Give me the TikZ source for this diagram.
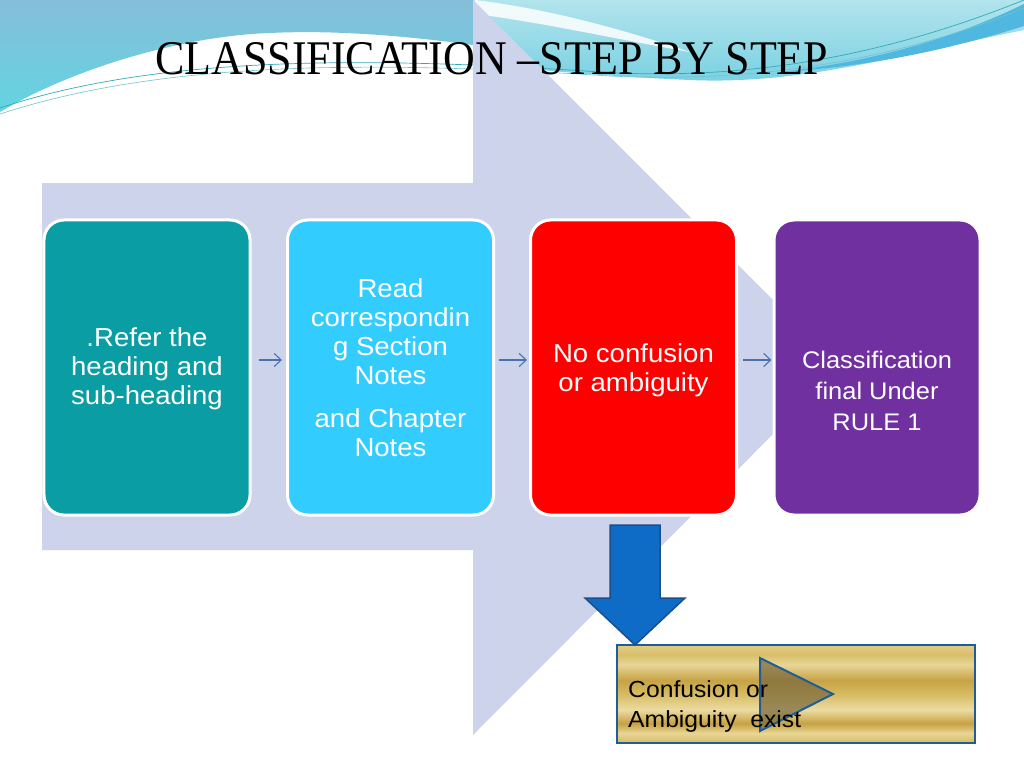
\documentclass[tikz,border=0pt]{standalone}
\usepackage{fontspec}
\setmainfont{Liberation Serif}
\newfontfamily\boxfont[FakeStretch=1.06]{Liberation Sans}
\usetikzlibrary{calc,arrows.meta}
\definecolor{lav}{RGB}{205,211,234}
\definecolor{tealbox}{RGB}{10,157,163}
\definecolor{bluebox}{RGB}{51,204,255}
\definecolor{redbox}{RGB}{255,0,0}
\definecolor{purplebox}{RGB}{112,48,160}
\definecolor{conncol}{RGB}{74,114,174}
\definecolor{darrow}{RGB}{15,108,198}
\definecolor{darrowb}{RGB}{26,79,140}
\definecolor{goldedge}{RGB}{31,92,153}
\definecolor{tribrown}{RGB}{120,104,60}
\definecolor{skyA}{RGB}{134,190,218}
\definecolor{skyB}{RGB}{98,212,224}
\definecolor{cyanA}{RGB}{178,228,236}
\definecolor{cyanB}{RGB}{120,208,226}
\definecolor{swoosh}{RGB}{80,184,224}
\definecolor{wline}{RGB}{50,170,185}
\definecolor{g1}{RGB}{214,186,96}
\definecolor{g2}{RGB}{232,214,150}
\definecolor{g3}{RGB}{198,161,66}
\definecolor{g4}{RGB}{236,220,162}
\definecolor{g5}{RGB}{215,187,98}
\definecolor{g6}{RGB}{199,163,69}
\definecolor{g7}{RGB}{232,214,150}
\definecolor{g8}{RGB}{217,191,108}
\definecolor{g9}{RGB}{227,205,133}
\pgfdeclareverticalshading{goldshade}{100bp}{color(0bp)=(g1); color(25bp)=(g1); color(30bp)=(g2); color(35bp)=(g3); color(42bp)=(g4); color(50bp)=(g5); color(57bp)=(g6); color(65bp)=(g7); color(70bp)=(g8); color(75bp)=(g9); color(100bp)=(g9)}
\tikzset{
  stepbox/.style={draw=white, line width=3bp, rounded corners=20bp, minimum width=206bp, minimum height=295bp, inner sep=0pt},
  boxtxt/.style={text=white, align=center, inner sep=0pt, font=\boxfont\fontsize{26bp}{29bp}\selectfont},
  conn/.style={draw=conncol, line width=1.1bp, -{Straight Barb[length=7bp,width=13bp]}},
}
\begin{document}
\begin{tikzpicture}[x=1bp,y=-1bp]
\useasboundingbox (0,0) rectangle (1024,768);
\fill[white] (0,0) rectangle (1024,768);
% top-left wave
\shade[top color=skyA, bottom color=skyB] (0,0) -- (473,0) -- (473,45) .. controls (400,35) and (330,30) .. (270,33) .. controls (180,36) and (70,70) .. (0,112) -- cycle;
% top-right wave
\shade[top color=cyanA, bottom color=cyanB] (473,0) -- (1024,0) -- (1024,30) .. controls (900,55) and (800,85) .. (690,80) .. controls (600,76) and (530,70) .. (473,62) -- cycle;
\fill[white, opacity=0.85] (475,0) .. controls (540,8) and (610,25) .. (690,52) .. controls (610,38) and (540,22) .. (475,14) -- cycle;
\fill[swoosh] (1024,4) .. controls (950,40) and (870,62) .. (780,72) .. controls (880,66) and (960,46) .. (1024,26) -- cycle;
\draw[wline, line width=0.7bp] (0,108) .. controls (150,58) and (350,55) .. (600,72) .. controls (760,82) and (900,50) .. (1024,0);
\draw[wline!70!white, line width=0.6bp] (0,114) .. controls (160,62) and (360,60) .. (610,76) .. controls (770,84) and (910,55) .. (1024,8);
% big background arrow
\fill[lav] (42,183) -- (473,183) -- (473,0) -- (840,367) -- (473,735) -- (473,550) -- (42,550) -- cycle;
% title
\node[anchor=base west, inner sep=0pt] (title) at (155,75) {\resizebox{673bp}{32bp}{CLASSIFICATION –STEP BY STEP}};
% boxes
\node[stepbox, fill=tealbox] (b1) at (147,367.5) {};
\node[stepbox, fill=bluebox] (b2) at (390.5,367.5) {};
\node[stepbox, fill=redbox] (b3) at (633.5,367.5) {};
\node[stepbox, fill=purplebox] (b4) at (877,367.5) {};
\node[boxtxt] (t1) at (147,369) {.Refer the\\heading and\\sub-heading};
\node[boxtxt] (t2) at (390.5,367.5) {Read\\correspondin\\g Section\\Notes\\[14bp]and Chapter\\Notes};
\node[boxtxt] (t3) at (633.5,370) {No confusion\\or ambiguity};
\node[boxtxt, font=\boxfont\fontsize{24bp}{31bp}\selectfont] (t4) at (877,391) {Classification\\final Under\\RULE 1};
% connectors
\draw[conn] ([xshift=7bp,yshift=7.5bp]b1.east) -- ([xshift=-4bp,yshift=7.5bp]b2.west);
\draw[conn] ([xshift=4bp,yshift=7.5bp]b2.east) -- ([xshift=-2bp,yshift=7.5bp]b3.west);
\draw[conn] ([xshift=5bp,yshift=7.5bp]b3.east) -- ([xshift=-1bp,yshift=7.5bp]b4.west);
% gold box
\node[draw=goldedge, line width=2.5bp, shading=goldshade, minimum width=358bp, minimum height=98bp, inner sep=0pt] (gold) at (796,694) {};
% down block arrow
\coordinate (dtop) at (635,525);
\coordinate (dtip) at (635,645);
\filldraw[fill=darrow, draw=darrowb, line width=1.5bp] ($(dtop)+(-25,0)$) -- ($(dtop)+(25,0)$) -- ($(dtop)+(25,73)$) -- ($(dtop)+(50,73)$) -- (dtip) -- ($(dtop)+(-50,73)$) -- ($(dtop)+(-25,73)$) -- cycle;
% play triangle
\filldraw[fill=tribrown, fill opacity=0.7, draw=goldedge, line width=2bp] (760,658) -- (833,694) -- (760,731) -- cycle;
\node[anchor=base west, align=left, inner sep=0pt, font=\boxfont\fontsize{23.3bp}{30bp}\selectfont] (gt) at (628,727) {Confusion or\\Ambiguity\ \ exist};
\end{tikzpicture}
\end{document}
